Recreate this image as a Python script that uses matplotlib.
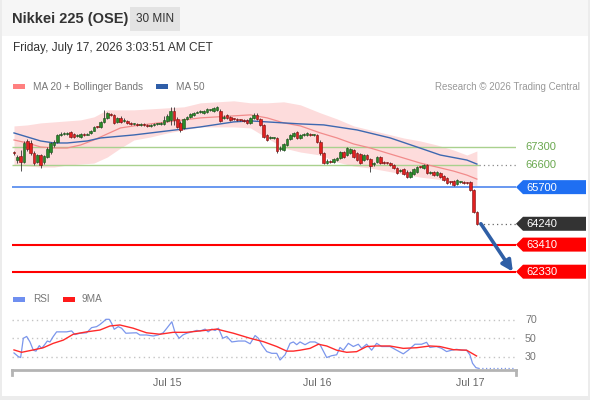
import numpy as np
import matplotlib.pyplot as plt
from matplotlib.patches import Rectangle, Polygon

plt.rcParams['font.family'] = ['Liberation Sans', 'DejaVu Sans']

# 30 min candles (oldest first)
opens = [67060, 66780, 66940, 66700, 67540, 67460, 67060, 66700, 66980, 66700,
         66900, 67100, 67380, 67500, 67780, 67820, 67830, 67900, 67820, 67740,
         67700, 67820, 67780, 67860, 67940, 68100, 68100, 68300, 68460, 68620,
         68580, 68300, 68460, 68340, 68340, 68260, 68220, 68220, 68180, 68220,
         68180, 68140, 68180, 68220, 68220, 68220, 68340, 68380, 68740, 68420,
         68260, 68060, 68420, 68500, 68580, 68660, 68700, 68660, 68700, 68780,
         68740, 68780, 68740, 68460, 68580, 68500, 68420, 68420, 68380, 68380,
         68380, 68260, 68460, 68580, 68420, 68180, 67780, 67660, 67660, 67660,
         67220, 67180, 67380, 67620, 67740, 67900, 67660, 67780, 67780, 67820,
         67780, 67780, 67500, 67060, 66660, 66740, 66700, 66780, 66860, 67100,
         66980, 67060, 67180, 67060, 67020, 66780, 66980, 66820, 66620, 66700,
         66900, 66700, 66660, 66660, 66580, 66460, 66340, 66420, 66300, 66100,
         66220, 66300, 66500, 66460, 66580, 66260, 66300, 66180, 66260, 66140,
         66060, 65900, 65940, 65820, 65900, 65900, 65860, 65900, 65580, 64700]
highs = [67140, 66980, 67180, 67540, 67620, 67580, 67140, 67020, 67020, 66980,
         67300, 67500, 67580, 67820, 67900, 67900, 67900, 67940, 67860, 67820,
         67860, 67860, 67860, 67980, 68140, 68140, 68340, 68780, 68700, 68660,
         68620, 68500, 68540, 68460, 68380, 68300, 68260, 68260, 68260, 68260,
         68220, 68220, 68260, 68260, 68300, 68540, 68620, 68900, 68900, 68500,
         68340, 68460, 68540, 68660, 68700, 68740, 68780, 68780, 68860, 68820,
         68900, 68940, 68820, 68580, 68620, 68540, 68460, 68460, 68420, 68420,
         68420, 68500, 68660, 68660, 68460, 68220, 67820, 67740, 67700, 67700,
         67340, 67460, 67660, 67820, 67900, 67940, 67820, 67860, 67900, 67860,
         67820, 67820, 67580, 67100, 66820, 66780, 66860, 66900, 67140, 67140,
         67300, 67260, 67220, 67100, 67060, 67020, 67020, 66860, 66700, 66940,
         66940, 66740, 66700, 66700, 66620, 66500, 66420, 66460, 66380, 66340,
         66460, 66540, 66540, 66620, 66620, 66340, 66340, 66340, 66300, 66180,
         66100, 65940, 65980, 66020, 65940, 65940, 65900, 65940, 65620, 64740]
lows = [66980, 66660, 66340, 66660, 67140, 66980, 66580, 66660, 66460, 66620,
        66860, 67020, 67300, 67460, 67740, 67780, 67780, 67660, 67660, 67700,
        67660, 67740, 67760, 67820, 67920, 68060, 68060, 68260, 68420, 68540,
        68220, 68260, 68260, 68300, 68220, 68180, 68180, 68140, 68140, 68140,
        68100, 68100, 68140, 68180, 68180, 68180, 68300, 68180, 68180, 68060,
        67900, 68020, 68380, 68460, 68540, 68650, 68660, 68620, 68660, 68740,
        68700, 68740, 68300, 68420, 68420, 68340, 68380, 68340, 68340, 68300,
        68220, 68220, 68420, 68380, 68140, 67660, 67540, 67620, 67620, 67060,
        67140, 67140, 67340, 67580, 67700, 67620, 67620, 67740, 67740, 67740,
        67740, 67460, 66980, 66620, 66620, 66660, 66660, 66740, 66820, 66860,
        66940, 67020, 66860, 66740, 66620, 66740, 66780, 66300, 66540, 66660,
        66620, 66620, 66620, 66540, 66420, 66220, 66300, 66180, 66060, 66060,
        66180, 66260, 66460, 66420, 66220, 66220, 66140, 66140, 66060, 65940,
        65820, 65820, 65740, 65780, 65860, 65820, 65820, 65540, 64660, 64180]
closes = [67050, 66900, 66700, 67460, 67220, 67060, 66660, 66980, 66580, 66940,
          67220, 67460, 67500, 67780, 67820, 67830, 67860, 67700, 67700, 67780,
          67820, 67780, 67820, 67940, 68100, 68090, 68300, 68460, 68660, 68580,
          68260, 68460, 68300, 68380, 68260, 68220, 68230, 68180, 68220, 68180,
          68140, 68180, 68220, 68230, 68260, 68380, 68540, 68740, 68380, 68100,
          67980, 68420, 68500, 68620, 68660, 68700, 68740, 68740, 68820, 68790,
          68860, 68900, 68340, 68500, 68460, 68380, 68410, 68380, 68370, 68340,
          68260, 68460, 68580, 68420, 68180, 67700, 67580, 67700, 67670, 67140,
          67260, 67420, 67620, 67780, 67860, 67660, 67780, 67820, 67860, 67780,
          67790, 67500, 67060, 66660, 66740, 66700, 66820, 66860, 67100, 66900,
          67260, 67220, 66900, 66780, 66660, 66980, 66820, 66540, 66660, 66900,
          66660, 66660, 66650, 66580, 66460, 66260, 66380, 66220, 66100, 66300,
          66420, 66500, 66490, 66580, 66260, 66300, 66180, 66300, 66100, 65980,
          65860, 65890, 65780, 65980, 65910, 65860, 65850, 65580, 64700, 64240]

# MA 20 with Bollinger Bands, sampled every few candles
bb_idx = [0, 4, 8, 12, 16, 20, 24, 28, 32, 36, 41, 46, 51, 56, 61, 66, 71, 76,
          81, 86, 92, 97, 102, 107, 112, 117, 122, 127, 132, 136, 139]
ma20 = [67580, 67460, 67300, 67260, 67260, 67380, 67580, 67820, 68060, 68140,
        68220, 68300, 68380, 68460, 68500, 68540, 68580, 68460, 68260, 68140,
        67860, 67660, 67420, 67260, 67060, 66860, 66660, 66500, 66340, 66180, 66020]
bb_upper = [68140, 68180, 68260, 68300, 68340, 68380, 68500, 68780, 68780, 68780,
            68820, 68860, 68900, 69060, 69100, 69140, 69060, 69060, 69100, 68980,
            68660, 68420, 68140, 67980, 67820, 67660, 67540, 67380, 67180, 66980, 67140]
bb_lower = [66580, 66540, 66500, 66500, 66580, 66620, 66660, 66900, 67260, 67580,
            67700, 67860, 67980, 68100, 68100, 68100, 68060, 67660, 67260, 67100,
            66980, 66700, 66540, 66460, 66340, 66220, 66100, 66020, 65940, 65860, 65740]

ma50_idx = [0, 4, 8, 12, 16, 22, 26, 36, 46, 56, 66, 71, 76, 86, 93, 103, 113,
            121, 128, 136, 139]
ma50 = [67860, 67700, 67540, 67460, 67460, 67540, 67660, 67780, 67940, 68100,
        68300, 68340, 68300, 68220, 68180, 67980, 67660, 67300, 66980, 66780, 66620]

# key levels
resistances = [67300, 66600]
pivot = 65700
supports = [63410, 62330]
target = 62330

# RSI panel
rsi_pos = [0, 1.3, 2, 2.8, 3.8, 4.8, 5.8, 6.6, 7.6, 8.3, 9.3, 10, 10.8, 11.8,
           12.8, 13.8, 15.8, 17.3, 18.3, 19.8, 21.8, 23.3, 24.8, 25.8, 26.8,
           27.6, 28.6, 29.3, 30.1, 31.3, 32.3, 33.6, 35.3, 36.8, 37.8, 39.8,
           41.8, 43.3, 44.8, 45.9, 47.4, 48.3, 49.6, 50.7, 51.9, 53.4, 54.9,
           55.9, 57.4, 58.3, 59.4, 60.4, 61.4, 62.7, 63.9, 65.4, 67.4, 69.4,
           70.9, 72.4, 73.4, 74.4, 75.9, 77.4, 78.9, 79.9, 81.4, 82.9, 83.9,
           84.9, 85.9, 87.4, 88.9, 90.4, 91.9, 93.9, 95.4, 96.9, 97.9, 98.9,
           100.4, 101.9, 103.4, 104.4, 105.9, 107.4, 108.9, 110.4, 112.9,
           114.9, 116.9, 118.4, 120.4, 122.4, 123.9, 124.9, 126.9, 128.4,
           129.9, 131.4, 132.9, 134.4, 135.9, 136.9, 137.7, 138.7, 139.4]
rsi_vals = [34, 30, 29, 50, 52, 46, 37, 36, 42, 39, 43.5, 47, 46, 52,
            57, 57, 57, 58, 54, 55.5, 56, 61.6, 62.7, 65, 68,
            70.7, 70.7, 66.4, 59.8, 62.7, 61, 55.5, 55.8, 56, 53.6, 53.6,
            52.5, 53.6, 56, 61, 68, 57, 50, 53.6, 55.5, 57, 58.6,
            58, 60, 57, 60, 58.5, 61, 50, 52, 46, 47, 47,
            44, 53, 50, 43, 35.5, 33.6, 33.6, 26.3, 32, 44.5, 46,
            43, 46, 43, 46, 46, 43, 29, 31, 32, 40, 37,
            44.5, 41, 43.5, 39, 43.5, 37, 44.5, 41, 41,
            37, 33, 37, 43.5, 43.5, 45.6, 40, 41, 39,
            35.5, 37, 38, 37, 37, 32, 22.7, 18, 17.3]
ma9_pos = [0, 2.3, 5.8, 8.8, 11.8, 14.8, 17.8, 21.8, 25.8, 28.8, 31.8, 35.8,
           39.8, 43.8, 47.8, 51.8, 55.8, 60.9, 65.9, 70.9, 74.9, 78.9, 81.9,
           83.9, 85.9, 88.9, 91.4, 93.9, 96.9, 99.9, 102.9, 105.9, 108.9,
           112.9, 116.9, 120.9, 124.9, 127.9, 131.9, 135.9, 138.9]
ma9_vals = [37.3, 34.7, 37.3, 39.7, 44.5, 48, 54.4, 57, 59, 63.4, 64.5, 61,
            56, 54.4, 56.5, 56.5, 58, 60, 55.5, 50, 46.3, 41, 36,
            36, 37, 39, 43.5, 41.6, 37, 34.7, 35.4, 41, 41.6,
            41.6, 39, 39.7, 41.6, 41, 37.6, 37, 30.7]
rsi_levels = [70, 50, 30]

day_ticks = [46, 91, 137]
day_labels = ['Jul 15', 'Jul 16', 'Jul 17']

W, H = 590, 400
fig = plt.figure(figsize=(W / 100, H / 100), dpi=100, facecolor='#ececec')

# page furniture in pixel coordinates (y down)
ov = fig.add_axes([0, 0, 1, 1], zorder=0)
ov.set_xlim(0, W)
ov.set_ylim(H, 0)
ov.axis('off')
ov.add_patch(Rectangle((2, 0), 586, 396, facecolor='white', edgecolor='none'))
ov.add_patch(Rectangle((2, 0), 586, 36, facecolor='#f6f6f6', edgecolor='none'))
ov.add_patch(Rectangle((130, 7), 50, 24, facecolor='#e3e3e3', edgecolor='none'))
ov.text(12, 19, 'Nikkei 225 (OSE)', fontsize=10.5, fontweight='bold', color='#333333', va='center')
ov.text(155, 19, '30 MIN', fontsize=8.5, color='#333333', va='center', ha='center')
ov.text(13, 48, 'Friday, July 17, 2026 3:03:51 AM CET', fontsize=8.6, color='#333333', va='center')

# legends
ov.add_patch(Rectangle((13, 84), 12, 5, facecolor='#ff8080', edgecolor='none'))
ov.text(33, 86.5, 'MA 20 + Bollinger Bands', fontsize=7.2, color='#777777', va='center')
ov.add_patch(Rectangle((156, 84), 12, 5, facecolor='#2f5ea8', edgecolor='none'))
ov.text(176, 86.5, 'MA 50', fontsize=7.2, color='#777777', va='center')
ov.text(580, 86.5, 'Research \u00a9 2026 Trading Central', fontsize=7, color='#999999',
        va='center', ha='right')
ov.add_patch(Rectangle((13, 297), 12, 5, facecolor='#6f8ff0', edgecolor='none'))
ov.text(33, 299.5, 'RSI', fontsize=7.2, color='#777777', va='center')
ov.add_patch(Rectangle((63, 297), 12, 5, facecolor='#ff1a1a', edgecolor='none'))
ov.text(82, 299.5, '9MA', fontsize=7.2, color='#777777', va='center')

# price panel
n = len(closes)
xmin, xmax = -0.6, 150.75
ax = fig.add_axes([12 / W, 1 - 285 / H, 504 / W, 190 / H], zorder=1)
ax.set_xlim(xmin, xmax)
ax.set_ylim(61800, 69372)
ax.axis('off')

ax.fill_between(bb_idx, bb_lower, bb_upper, color='#fddcdc', lw=0, zorder=1)
ax.plot(bb_idx, ma20, color='#f28b8b', lw=0.9, zorder=2)
ax.plot(ma50_idx, ma50, color='#3d68b0', lw=1, zorder=2)

green_line = '#a9d18e'
ax.hlines(resistances[0], xmin, xmax, color=green_line, lw=1, zorder=1.5)
ax.hlines(resistances[1], xmin, n - 0.5, color=green_line, lw=1, zorder=1.5)
ax.hlines(resistances[1], n - 0.5, xmax, color='#888888', lw=0.9, ls=(0, (1, 2.5)), zorder=1.5)
ax.hlines(pivot, xmin, xmax, color='#4f86ee', lw=1.2, zorder=1.5)
ax.hlines(closes[-1], n - 0.5, xmax, color='#666666', lw=0.9, ls=(0, (1, 2.5)), zorder=1.5)
for s in supports:
    ax.hlines(s, xmin, xmax, color='#ff0000', lw=1.5, zorder=1.5)

o = np.array(opens, float)
c = np.array(closes, float)
x = np.arange(n)
up = c >= o
body_bot = np.minimum(o, c)
body_h = np.maximum(np.abs(c - o), 40)
ax.vlines(x, lows, highs, color='#333333', lw=0.6, zorder=3)
ax.bar(x, body_h, bottom=body_bot, width=0.8,
       color=np.where(up, '#2a8a2a', '#e02020'),
       edgecolor=np.where(up, '#1b4f1b', '#7a1010'), lw=0.4, zorder=4)

ax.annotate('', xy=(n + 9.8, target), xytext=(n + 0.2, closes[-1]),
            arrowprops=dict(arrowstyle='-|>', color='#2f5fa6', lw=2.6,
                            mutation_scale=16, shrinkA=0, shrinkB=0),
            annotation_clip=False, zorder=5)


def ypx(axis, v):
    return H - axis.transData.transform((0, v))[1]


def tag(y, text, face):
    ov.add_patch(Polygon([(516, y), (523, y - 7), (586, y - 7), (586, y + 7), (523, y + 7)],
                         closed=True, facecolor=face, edgecolor='none'))
    ov.text(526, y + 0.5, text, fontsize=8, color='white', va='center')


for r in resistances:
    ov.text(525, ypx(ax, r) + 0.5, str(r), fontsize=8, color='#6aa84f', va='center')
tag(ypx(ax, pivot), str(pivot), '#1f6ff2')
tag(ypx(ax, closes[-1]), str(closes[-1]), '#333333')
for s in supports:
    tag(ypx(ax, s), str(s), '#ff0000')

# RSI panel
ax2 = fig.add_axes([12 / W, 1 - 370 / H, 504 / W, 65 / H], zorder=1)
ax2.set_xlim(xmin, xmax)
ax2.set_ylim(15.4, 86.3)
ax2.patch.set_alpha(0)
for side in ['top', 'left', 'right']:
    ax2.spines[side].set_visible(False)
ax2.spines['bottom'].set_color('#b4b4b4')
ax2.spines['bottom'].set_linewidth(2)
ax2.set_yticks([])
ax2.set_xticks(day_ticks, day_labels)
ax2.tick_params(axis='x', length=0, pad=6, labelsize=7.7, labelcolor='#666666')
for lvl in rsi_levels:
    ax2.axhline(lvl, color='#c4c4c4', lw=1, ls=(0, (1, 2.5)))
    ov.text(525, ypx(ax2, lvl) + 0.5, str(lvl), fontsize=7.7, color='#777777', va='center')
ax2.plot(rsi_pos, rsi_vals, color='#7b96ec', lw=0.9)
ax2.plot(ma9_pos, ma9_vals, color='#ff2a2a', lw=1)
ax2.hlines(rsi_vals[-1], rsi_pos[-1], xmax, color='#7b96ec', lw=0.9, ls=(0, (1, 2)))
for edge in [0, 1]:
    ax2.plot([edge, edge], [0, -0.08], transform=ax2.transAxes, color='#b4b4b4',
             lw=2, clip_on=False)

fig.savefig('out.png', dpi=100, facecolor=fig.get_facecolor())
